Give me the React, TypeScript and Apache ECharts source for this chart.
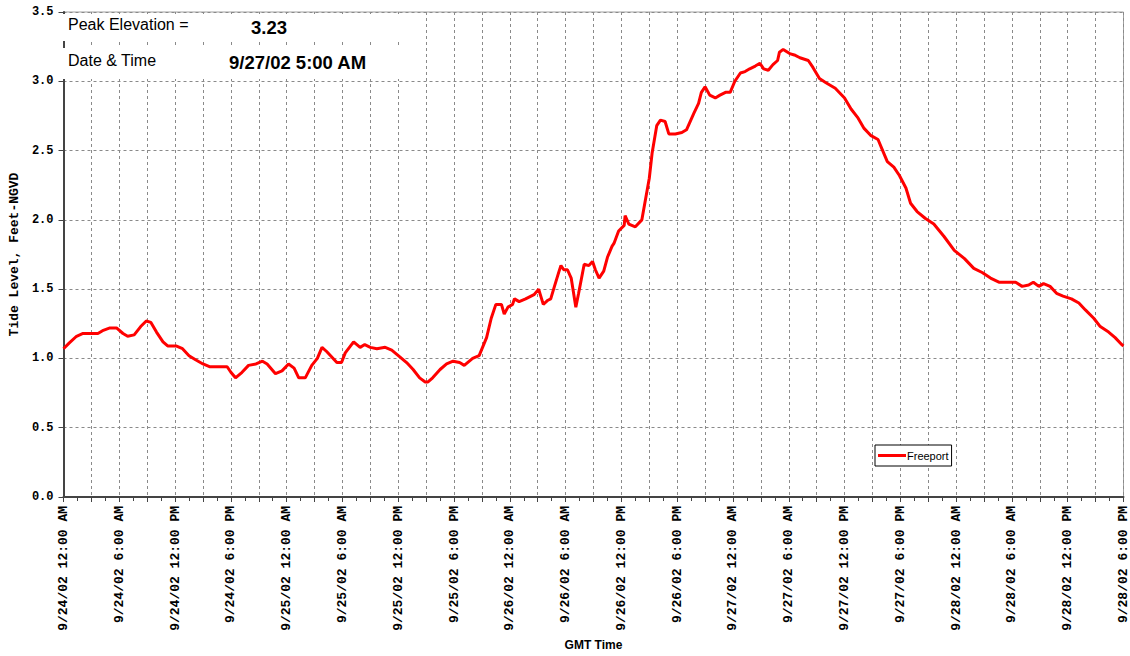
import React, { useEffect, useRef } from "react";
import * as echarts from "echarts";

// Hours since 9/24/02 12:00 AM (GMT)
const HOURS = [0,0.6,1.4,2.1,3.0,3.7,4.2,5.0,5.7,6.4,6.9,7.6,8.3,8.9,9.4,10.0,10.7,11.2,12.1,12.8,13.5,14.2,15.0,15.7,16.7,17.6,18.0,18.5,19.2,19.9,20.7,21.4,21.9,22.8,23.5,24.2,24.8,25.3,26.0,26.7,27.3,27.8,28.3,29.0,29.4,29.9,30.3,31.2,31.9,32.4,33.0,33.7,34.6,35.3,36.2,36.9,37.6,38.3,38.9,39.2,39.7,40.5,41.2,41.9,42.6,43.1,44.0,44.7,45.5,46.0,46.5,47.1,47.4,47.8,48.3,48.5,49.0,49.7,50.6,51.1,51.6,52.1,52.4,52.8,53.3,53.5,53.8,54.2,54.6,55.1,55.4,56.0,56.5,56.9,57.2,57.6,58.1,58.5,59.0,59.2,59.7,60.3,60.4,60.8,61.5,62.2,62.6,63.0,63.3,63.8,64.2,64.7,65.1,65.8,66.5,67.0,67.8,68.3,68.6,69.0,69.5,70.1,70.6,71.2,71.7,72.2,72.8,73.3,73.8,74.4,74.9,75.3,75.8,76.3,76.8,77.0,77.4,78.1,78.6,79.2,80.1,80.6,81.3,82.0,83.0,84.0,84.7,85.4,86.1,86.8,87.6,88.1,88.6,89.3,89.9,90.6,91.1,91.8,92.7,93.6,94.7,95.8,96.9,97.9,98.8,99.7,100.6,101.5,102.4,103.1,103.8,104.3,104.9,105.4,106.1,106.8,107.5,108.4,109.2,109.9,110.8,111.5,112.4,113.1,113.8,114.0];

// Tide level, Feet-NGVD
const LEVELS = [1.07,1.11,1.16,1.18,1.18,1.18,1.20,1.22,1.22,1.18,1.16,1.17,1.23,1.27,1.26,1.19,1.12,1.09,1.09,1.07,1.02,0.99,0.96,0.94,0.94,0.94,0.90,0.86,0.90,0.95,0.96,0.98,0.96,0.89,0.91,0.96,0.93,0.86,0.86,0.95,1.00,1.08,1.05,1.00,0.97,0.97,1.04,1.12,1.08,1.10,1.08,1.07,1.08,1.06,1.01,0.97,0.92,0.86,0.83,0.83,0.86,0.92,0.96,0.98,0.97,0.95,1.00,1.02,1.15,1.29,1.39,1.39,1.32,1.37,1.39,1.43,1.41,1.43,1.46,1.50,1.39,1.42,1.43,1.52,1.63,1.67,1.64,1.64,1.58,1.37,1.47,1.68,1.67,1.70,1.64,1.58,1.63,1.73,1.81,1.83,1.92,1.96,2.03,1.97,1.95,2.00,2.15,2.30,2.48,2.68,2.72,2.71,2.62,2.62,2.63,2.65,2.77,2.84,2.92,2.96,2.90,2.88,2.90,2.92,2.92,3.00,3.06,3.07,3.09,3.11,3.13,3.09,3.08,3.12,3.15,3.21,3.23,3.20,3.19,3.17,3.15,3.10,3.02,2.99,2.95,2.88,2.80,2.74,2.66,2.61,2.58,2.50,2.42,2.38,2.32,2.23,2.12,2.06,2.01,1.97,1.88,1.78,1.72,1.65,1.62,1.58,1.55,1.55,1.55,1.52,1.53,1.55,1.52,1.54,1.52,1.47,1.45,1.43,1.40,1.35,1.29,1.23,1.19,1.15,1.10,1.09];

// Labels at every 6 hours
const X_TICK_LABELS = [
  "9/24/02 12:00 AM", "9/24/02 6:00 AM", "9/24/02 12:00 PM", "9/24/02 6:00 PM",
  "9/25/02 12:00 AM", "9/25/02 6:00 AM", "9/25/02 12:00 PM", "9/25/02 6:00 PM",
  "9/26/02 12:00 AM", "9/26/02 6:00 AM", "9/26/02 12:00 PM", "9/26/02 6:00 PM",
  "9/27/02 12:00 AM", "9/27/02 6:00 AM", "9/27/02 12:00 PM", "9/27/02 6:00 PM",
  "9/28/02 12:00 AM", "9/28/02 6:00 AM", "9/28/02 12:00 PM", "9/28/02 6:00 PM",
];

const SERIES_NAME = "Freeport";
const PEAK_LABEL = "Peak Elevation =";
const PEAK_VALUE = "3.23";
const TIME_LABEL = "Date & Time";
const PEAK_TIME = "9/27/02 5:00 AM";

export default function App() {
  const ref = useRef<HTMLDivElement>(null);
  useEffect(() => {
    if (!ref.current) return;
    const chart = echarts.init(ref.current, null, { renderer: "svg" });
    const mono = "'Liberation Mono', 'DejaVu Sans Mono', monospace";
    const sans = "'Liberation Sans', Arial, sans-serif";
    const dash = { color: "#8a8a8a", width: 1, type: [3, 3] as any };
    chart.setOption({
      animation: false,
      backgroundColor: "#ffffff",
      grid: {
        left: 62, right: 3, top: 12, bottom: 159,
        show: true, borderColor: "#a0a0a0", borderWidth: 1,
      },
      legend: {
        left: 875, top: 445,
        data: [SERIES_NAME],
        icon: "rect",
        itemWidth: 28, itemHeight: 3,
        itemGap: 0,
        padding: [5, 3, 5, 3],
        borderColor: "#000", borderWidth: 1,
        backgroundColor: "#fff",
        textStyle: { fontFamily: sans, fontSize: 11, color: "#000", padding: [0, 0, 0, -4] },
      },
      xAxis: {
        type: "value",
        min: 0, max: 114, interval: 3,
        name: "GMT Time",
        nameLocation: "middle",
        nameGap: 140,
        nameTextStyle: { fontFamily: sans, fontWeight: "bold", fontSize: 12, color: "#000" },
        axisLine: { lineStyle: { color: "#444", width: 2 } },
        axisTick: { show: true, length: 5, lineStyle: { color: "#444" } },
        minorTick: { show: true, splitNumber: 2, length: 4, lineStyle: { color: "#444" } },
        splitLine: { show: true, lineStyle: dash },
        axisLabel: {
          rotate: 90,
          margin: 9,
          fontFamily: mono, fontWeight: "bold", fontSize: 13, color: "#000",
          showMinLabel: true, showMaxLabel: true,
          formatter: (v: number) => {
            if (Math.round(v) % 6 !== 0) return "";
            return X_TICK_LABELS[Math.round(v) / 6] ?? "";
          },
        },
      },
      yAxis: {
        type: "value",
        min: 0, max: 3.5, interval: 0.5,
        name: "Tide Level, Feet-NGVD",
        nameLocation: "middle",
        nameGap: 39,
        nameTextStyle: { fontFamily: mono, fontWeight: "bold", fontSize: 13, color: "#000" },
        axisLine: { show: true, lineStyle: { color: "#444", width: 2 } },
        axisTick: { show: true, length: 5, lineStyle: { color: "#444" } },
        splitLine: { show: true, lineStyle: dash },
        axisLabel: {
          margin: 10,
          fontFamily: mono, fontWeight: "bold", fontSize: 12, color: "#000",
          formatter: (v: number) => v.toFixed(1),
        },
      },
      graphic: [
        { type: "rect", shape: { x: 63, y: 14, width: 337, height: 27 }, style: { fill: "#fff" }, z: 10 },
        { type: "rect", shape: { x: 63, y: 48, width: 337, height: 31 }, style: { fill: "#fff" }, z: 10 },
        { type: "text", x: 68, y: 24, z: 11, style: { text: PEAK_LABEL, fontFamily: sans, fontSize: 16, fill: "#000", verticalAlign: "middle" } },
        { type: "text", x: 251, y: 27, z: 11, style: { text: PEAK_VALUE, fontFamily: sans, fontWeight: "bold", fontSize: 18.5, fill: "#000", verticalAlign: "middle" } },
        { type: "text", x: 68, y: 60, z: 11, style: { text: TIME_LABEL, fontFamily: sans, fontSize: 16, fill: "#000", verticalAlign: "middle" } },
        { type: "text", x: 229, y: 62, z: 11, style: { text: PEAK_TIME, fontFamily: sans, fontWeight: "bold", fontSize: 18.5, fill: "#000", verticalAlign: "middle" } },
      ],
      series: [
        {
          name: SERIES_NAME,
          type: "line",
          data: HOURS.map((h, i) => [h, LEVELS[i]]),
          showSymbol: false,
          symbol: "none",
          lineStyle: { color: "#ff0000", width: 3 },
          itemStyle: { color: "#ff0000" },
          z: 5,
        },
      ],
    });
    return () => chart.dispose();
  }, []);
  return <div ref={ref} style={{ position: "absolute", left: 0, top: 0, width: 1130, height: 656 }} />;
}
